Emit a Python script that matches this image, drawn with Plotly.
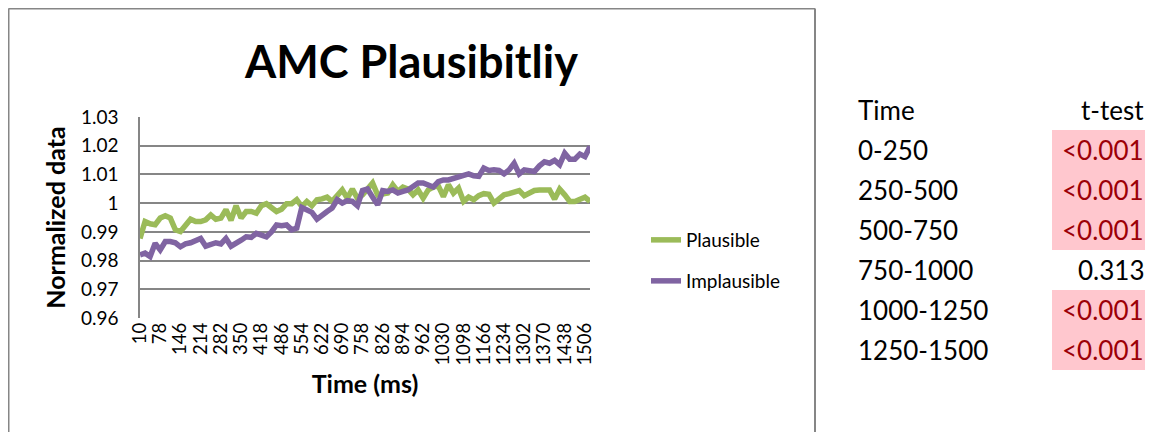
import plotly.graph_objects as go

# page offset of the plot div inside the browser window (body margin)
OFF = 8
W, H = 1153 - OFF, 432 - OFF

# ---- data ----
time_ms = [10 + 17 * i for i in range(90)]
tick_vals = [10 + 68 * k for k in range(23)]
tick_text = [str(v) for v in tick_vals]

plausible = [
    0.9877, 0.9936, 0.9928, 0.9925, 0.9948, 0.9956, 0.9948, 0.9907, 0.9901, 0.9920,
    0.9944, 0.9936, 0.9936, 0.9942, 0.9959, 0.9944, 0.9948, 0.9977, 0.9940, 0.9991,
    0.9948, 0.9971, 0.9971, 0.9965, 0.9991, 0.9998, 0.9983, 0.9971, 0.9979, 0.9998,
    0.9998, 1.0012, 0.9988, 1.0006, 0.9991, 1.0012, 1.0015, 1.0021, 1.0006, 1.0029,
    1.0046, 1.0017, 1.0049, 1.0017, 1.0029, 1.0049, 1.0070, 1.0029, 1.0033, 1.0035,
    1.0064, 1.0041, 1.0056, 1.0049, 1.0029, 1.0046, 1.0017, 1.0046, 1.0056, 1.0060,
    1.0023, 1.0064, 1.0035, 1.0052, 1.0006, 1.0021, 1.0012, 1.0026, 1.0033, 1.0031,
    1.0000, 1.0014, 1.0029, 1.0033, 1.0037, 1.0044, 1.0026, 1.0035, 1.0044, 1.0046,
    1.0044, 1.0046, 1.0014, 1.0049, 1.0029, 1.0006, 1.0006, 1.0012, 1.0021, 1.0006,
]
implausible = [
    0.9820, 0.9826, 0.9814, 0.9860, 0.9837, 0.9866, 0.9866, 0.9862, 0.9848, 0.9858,
    0.9862, 0.9871, 0.9877, 0.9850, 0.9854, 0.9862, 0.9858, 0.9877, 0.9850, 0.9858,
    0.9871, 0.9883, 0.9881, 0.9895, 0.9889, 0.9883, 0.9900, 0.9924, 0.9921, 0.9924,
    0.9907, 0.9913, 0.9985, 0.9977, 0.9968, 0.9944, 0.9960, 0.9971, 0.9983, 1.0012,
    1.0000, 1.0009, 1.0006, 0.9991, 1.0044, 1.0049, 1.0021, 0.9994, 1.0044, 1.0041,
    1.0046, 1.0035, 1.0041, 1.0046, 1.0058, 1.0070, 1.0070, 1.0063, 1.0056, 1.0075,
    1.0081, 1.0081, 1.0086, 1.0091, 1.0099, 1.0102, 1.0095, 1.0093, 1.0122, 1.0114,
    1.0116, 1.0114, 1.0102, 1.0116, 1.0139, 1.0102, 1.0116, 1.0111, 1.0110, 1.0130,
    1.0144, 1.0139, 1.0149, 1.0134, 1.0174, 1.0153, 1.0153, 1.0171, 1.0162, 1.0197,
]
y_ticks = [0.96, 0.97, 0.98, 0.99, 1.00, 1.01, 1.02, 1.03]
y_tick_text = ["0.96", "0.97", "0.98", "0.99", "1", "1.01", "1.02", "1.03"]

table_header = ["Time", "t-test"]
table_time = ["0-250", "250-500", "500-750", "750-1000", "1000-1250", "1250-1500"]
table_p = ["<0.001", "<0.001", "<0.001", "0.313", "<0.001", "<0.001"]
table_sig = [True, True, True, False, True, True]

GREEN = "#9BBB59"
PURPLE = "#8064A2"
GRID = "#868686"
FONT = "Lato, 'Open Sans', sans-serif"


def px(x):
    return (x - OFF) / W


def py(y):
    return 1 - (y - OFF) / H


fig = go.Figure()
fig.add_trace(go.Scatter(x=time_ms, y=plausible, mode="lines", name="Plausible",
                         line=dict(color=GREEN, width=5.5), legend="legend"))
fig.add_trace(go.Scatter(x=time_ms, y=implausible, mode="lines", name="Implausible",
                         line=dict(color=PURPLE, width=5.5), legend="legend2"))

# chart frame: left, top, right edges (bottom lies outside the picture)
frame = dict(color=GRID, width=2)
shapes = [
    dict(type="line", xref="paper", yref="paper", x0=px(8.5), x1=px(8.5), y0=0, y1=py(8.5), line=frame),
    dict(type="line", xref="paper", yref="paper", x0=px(8.5), x1=px(815), y0=py(8.5), y1=py(8.5), line=frame),
    dict(type="line", xref="paper", yref="paper", x0=px(815), x1=px(815), y0=0, y1=py(8.5), line=frame),
]
annotations = [
    dict(text="<b>AMC Plausibitliy</b>", x=px(411), y=py(61), xref="paper", yref="paper",
         showarrow=False, font=dict(family=FONT, size=45, color="black"),
         xanchor="center", yanchor="middle"),
]

# table
TFS = 26
row_y0 = 130
row_h = 40
annotations.append(dict(text=table_header[0], x=px(856), y=py(110), xref="paper", yref="paper",
                        showarrow=False, xanchor="left", yanchor="middle",
                        font=dict(family=FONT, size=TFS, color="black")))
annotations.append(dict(text=table_header[1], x=px(1146), y=py(110), xref="paper", yref="paper",
                        showarrow=False, xanchor="right", yanchor="middle",
                        font=dict(family=FONT, size=TFS, color="black")))
for i, (t, p, sig) in enumerate(zip(table_time, table_p, table_sig)):
    yc = row_y0 + row_h * i + row_h / 2
    if sig:
        shapes.append(dict(type="rect", xref="paper", yref="paper", x0=px(1052), x1=1.0,
                           y0=py(yc + row_h / 2), y1=py(yc - row_h / 2),
                           line=dict(width=0), fillcolor="#FFC7CE", layer="below"))
    annotations.append(dict(text=t, x=px(856), y=py(yc), xref="paper", yref="paper",
                            showarrow=False, xanchor="left", yanchor="middle",
                            font=dict(family=FONT, size=TFS, color="black")))
    annotations.append(dict(text=p, x=px(1146), y=py(yc), xref="paper", yref="paper",
                            showarrow=False, xanchor="right", yanchor="middle",
                            font=dict(family=FONT, size=TFS, color="#9C0006" if sig else "black")))

fig.update_layout(
    width=W, height=H,
    margin=dict(l=0, r=0, t=0, b=0, pad=0, autoexpand=False),
    paper_bgcolor="white", plot_bgcolor="white",
    font=dict(family=FONT, color="black"),
    shapes=shapes, annotations=annotations,
    showlegend=True,
    legend=dict(x=px(646), y=py(240), xanchor="left", yanchor="middle",
                font=dict(family=FONT, size=19, color="black"), bgcolor="rgba(0,0,0,0)"),
    legend2=dict(x=px(646), y=py(281), xanchor="left", yanchor="middle",
                 font=dict(family=FONT, size=19, color="black"), bgcolor="rgba(0,0,0,0)"),
    xaxis=dict(domain=[px(140), px(590)], range=[10, 1523], tickmode="array",
               tickvals=tick_vals, ticktext=tick_text, tickangle=-90, automargin=False,
               tickfont=dict(family=FONT, size=18.5, color="black"),
               showgrid=False, zeroline=False, showline=False, ticks="",
               title=dict(text="<b>Time (ms)</b>", font=dict(family=FONT, size=25, color="black"),
                          standoff=10)),
    yaxis=dict(domain=[py(318), py(117)], range=[0.96, 1.03], tickmode="array",
               tickvals=y_ticks, ticktext=y_tick_text, automargin=False,
               tickfont=dict(family=FONT, size=19, color="black"),
               showgrid=True, gridcolor=GRID, gridwidth=1.5, zeroline=False,
               showline=True, linecolor=GRID, linewidth=1.5, ticks="", ticklabelstandoff=16,
               title=dict(text="<b>Normalized data</b>", font=dict(family=FONT, size=25, color="black"),
                          standoff=8)),
)

fig.write_html("out.html")
